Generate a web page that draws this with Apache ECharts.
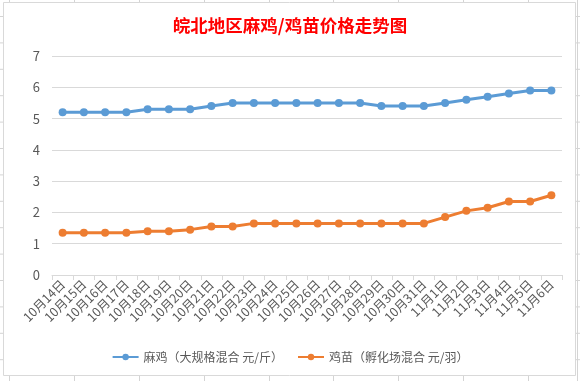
<!DOCTYPE html>
<html><head><meta charset="utf-8">
<script src="https://cdn.jsdelivr.net/npm/echarts@6/dist/echarts.min.js"></script>
<style>html,body{margin:0;padding:0;background:#fff;}#c{width:580px;height:381px;}</style>
</head><body><div id="c"></div>
<script>
var categories = ["10月14日","10月15日","10月16日","10月17日","10月18日","10月19日","10月20日","10月21日","10月22日","10月23日","10月24日","10月25日","10月26日","10月27日","10月28日","10月29日","10月30日","10月31日","11月1日","11月2日","11月3日","11月4日","11月5日","11月6日"];
var maJi = [5.2,5.2,5.2,5.2,5.3,5.3,5.3,5.4,5.5,5.5,5.5,5.5,5.5,5.5,5.5,5.4,5.4,5.4,5.5,5.6,5.7,5.8,5.9,5.9];
var jiMiao = [1.35,1.35,1.35,1.35,1.4,1.4,1.45,1.55,1.55,1.65,1.65,1.65,1.65,1.65,1.65,1.65,1.65,1.65,1.85,2.05,2.15,2.35,2.35,2.55];
var yTicks = [0,1,2,3,4,5,6,7];
var seriesNames = ["麻鸡（大规格混合 元/斤）","鸡苗（孵化场混合 元/羽）"];
var titleText = "皖北地区麻鸡/鸡苗价格走势图";

var font = '"Noto Sans CJK SC", sans-serif';
var bg = [];
var sheet = '#d4d4d4';
for (var k = -1; k < 14; k++) {
  var y = 16.5 + 26.4 * k;
  bg.push({type:'line', shape:{x1:0,y1:y,x2:580,y2:y}, style:{stroke:sheet,lineWidth:1}, z:-10});
}
var cols = [9,74,139,204,269,333,398,463,528,577];
cols.forEach(function(x){ bg.push({type:'line', shape:{x1:x+0.5,y1:0,x2:x+0.5,y2:381}, style:{stroke:sheet,lineWidth:1}, z:-10}); });
bg.push({type:'rect', shape:{x:3.5,y:2.5,width:572,height:373}, style:{fill:'#fff',stroke:'#d9d9d9',lineWidth:1}, z:-5});

var chart = echarts.init(document.getElementById('c'));
chart.setOption({
  backgroundColor:'#fff',
  animation:false,
  graphic: bg,
  title:{text:titleText,left:'center',top:12,textStyle:{color:'#ff0000',fontSize:17.5,fontWeight:'bold',fontFamily:font}},
  legend:{bottom:13,left:'center',itemWidth:26,itemHeight:8,itemGap:14,
    data:seriesNames,
    textStyle:{color:'#595959',fontSize:12,fontFamily:font}},
  grid:{left:52,right:18,top:56,bottom:106,containLabel:false},
  xAxis:{type:'category',data:categories,boundaryGap:true,
    axisLine:{lineStyle:{color:'#d9d9d9'}},
    axisTick:{show:true,alignWithLabel:false,length:5,lineStyle:{color:'#d9d9d9'}},
    axisLabel:{interval:0,rotate:45,color:'#595959',fontSize:12.5,margin:7,fontFamily:font}},
  yAxis:{type:'value',min:yTicks[0],max:yTicks[yTicks.length-1],interval:1,
    axisLine:{show:false},axisTick:{show:false},
    axisLabel:{color:'#595959',fontSize:13,margin:12,fontFamily:font},
    splitLine:{lineStyle:{color:'#d9d9d9'}}},
  series:[
    {name:seriesNames[0],type:'line',data:maJi,symbol:'circle',symbolSize:8,
      itemStyle:{color:'#5b9bd5'},lineStyle:{width:3,color:'#5b9bd5'}},
    {name:seriesNames[1],type:'line',data:jiMiao,symbol:'circle',symbolSize:8,
      itemStyle:{color:'#ed7d31'},lineStyle:{width:3,color:'#ed7d31'}}
  ]
});
</script></body></html>
